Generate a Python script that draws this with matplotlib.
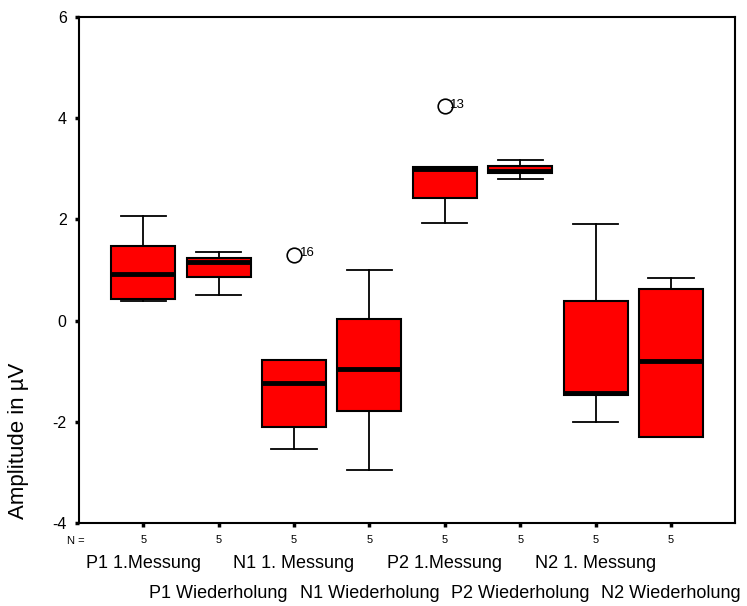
import matplotlib
matplotlib.use("Agg")
import matplotlib.pyplot as plt
from matplotlib.transforms import blended_transform_factory

plt.rcParams['font.family'] = ['Liberation Sans', 'DejaVu Sans']

# groups, in plot order
labels = ['P1 1.Messung', 'P1 Wiederholung', 'N1 1. Messung', 'N1 Wiederholung',
          'P2 1.Messung', 'P2 Wiederholung', 'N2 1. Messung', 'N2 Wiederholung']
n_counts = [5, 5, 5, 5, 5, 5, 5, 5]

# box statistics
whislo = [0.38, 0.51, -2.53, -2.96, 1.93, 2.79, -2.00, -2.31]
q1 = [0.43, 0.86, -2.11, -1.78, 2.42, 2.91, -1.48, -2.31]
med = [0.93, 1.16, -1.23, -0.96, 3.00, 2.95, -1.43, -0.79]
q3 = [1.47, 1.24, -0.78, 0.04, 3.04, 3.05, 0.38, 0.63]
whishi = [2.06, 1.36, -0.78, 1.00, 3.04, 3.18, 1.90, 0.84]
fliers = [[], [], [1.30], [], [4.24], [], [], []]
flier_ids = [[], [], ['16'], [], ['13'], [], [], []]

stats = []
for i in range(len(labels)):
    stats.append(dict(whislo=whislo[i], q1=q1[i], med=med[i], q3=q3[i],
                      whishi=whishi[i], fliers=fliers[i]))

positions = list(range(1, len(labels) + 1))

fig = plt.figure(figsize=(7.47, 6.06), dpi=100)
ax = fig.add_axes([0.106, 0.137, 0.878, 0.835])

ax.bxp(stats, positions=positions, widths=0.85, capwidths=0.6,
       patch_artist=True, showfliers=True,
       boxprops=dict(facecolor='#ff0000', edgecolor='black', linewidth=1.5),
       medianprops=dict(color='black', linewidth=3.5, solid_capstyle='butt'),
       whiskerprops=dict(color='black', linewidth=1.3),
       capprops=dict(color='black', linewidth=1.3),
       flierprops=dict(marker='o', markersize=10.5, markerfacecolor='none',
                       markeredgecolor='black', markeredgewidth=1.2))

# case numbers next to outliers
for i, (vals, ids) in enumerate(zip(fliers, flier_ids)):
    for v, s in zip(vals, ids):
        ax.annotate(s, (positions[i], v), xytext=(4, 1), textcoords='offset points',
                    fontsize=9.5, va='center', ha='left')

ax.set_xlim(0.15, 8.85)
ax.set_ylim(-4, 6)
ax.set_yticks([-4, -2, 0, 2, 4, 6])
ax.set_yticklabels(['-4', '-2', '0', '2', '4', '6'], fontsize=11.5)
ax.set_xticks(positions)
ax.set_xticklabels([str(n) for n in n_counts], fontsize=8)
ax.tick_params(axis='both', direction='out', length=3, width=2.5, colors='black', pad=6)
for sp in ax.spines.values():
    sp.set_linewidth(1.5)
    sp.set_color('black')

ax.set_ylabel('Amplitude in µV', fontsize=16)
ax.yaxis.set_label_coords(-0.076, 0.162)

trans = blended_transform_factory(ax.transData, ax.transAxes)
ax.text(-0.018, -0.036, 'N =', transform=ax.transAxes, fontsize=8, ha='left', va='center')
for i, lab in enumerate(labels):
    y = -0.081 if i % 2 == 0 else -0.139
    ax.text(positions[i], y, lab, transform=trans, fontsize=13, ha='center', va='center')

fig.savefig('out.png', dpi=100)
